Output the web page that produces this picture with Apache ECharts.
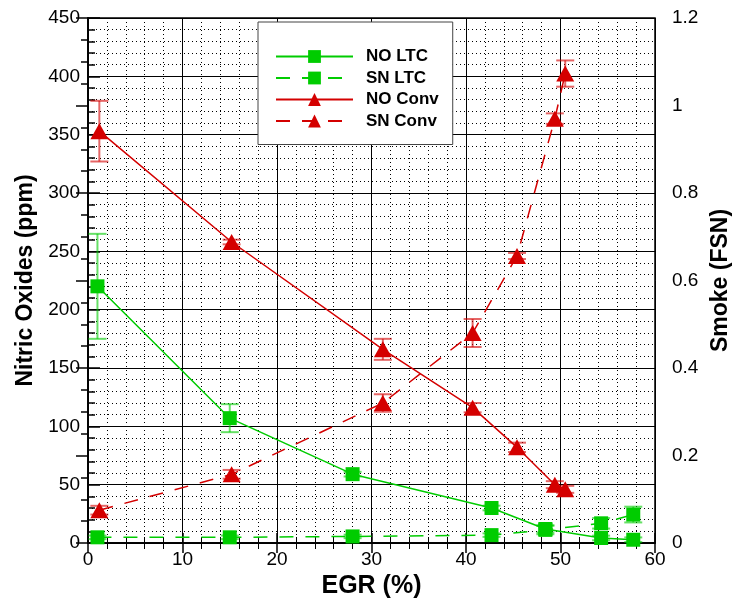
<!DOCTYPE html>
<html>
<head>
<meta charset="utf-8">
<script src="https://cdn.jsdelivr.net/npm/echarts@6/dist/echarts.min.js"></script>
<style>html,body{margin:0;padding:0;background:#fff}#c{width:740px;height:600px}</style>
</head>
<body>
<div id="c"></div>
<script>
// EGR (%) positions
const egrLTC = [1.0, 15.0, 28.0, 42.7, 48.4, 54.3, 57.7];
const egrConv = [1.2, 15.2, 31.2, 40.7, 45.4, 49.4, 50.5];
// Nitric oxides (ppm)
const noLTC = [220, 107, 59, 30, 12, 4.3, 2.8];
const noLTCErr = [45, 12, 2, 2, 3, 2, 2];
const noConv = [353, 258, 166, 116, 82, 50, 46];
const noConvErr = [26, 2, 9, 4, 4, 3, 3];
// Smoke (FSN)
const snLTC = [0.013, 0.013, 0.015, 0.018, 0.03, 0.045, 0.065];
const snLTCErr = [0.004, 0.004, 0.004, 0.004, 0.01, 0.012, 0.018];
const snConv = [0.075, 0.157, 0.32, 0.48, 0.656, 0.97, 1.073];
const snConvErr = [0.01, 0.01, 0.02, 0.032, 0.007, 0.012, 0.03];

const seriesNames = ['NO LTC', 'SN LTC', 'NO Conv', 'SN Conv'];
const GREEN = '#00cc00';
const RED = '#d40000';
const FONT = 'Liberation Sans, Arial, sans-serif';

function pairs(xs, ys) { return xs.map((x, i) => [x, ys[i]]); }
function errData(xs, ys, es) { return xs.map((x, i) => [x, ys[i] - es[i], ys[i] + es[i]]); }

function errSeries(name, xs, ys, es, color, yIdx) {
  return {
    type: 'custom',
    name: name + ' err',
    yAxisIndex: yIdx,
    silent: true,
    z: 3,
    data: errData(xs, ys, es),
    renderItem: function (params, api) {
      const x = api.value(0);
      const lo = api.coord([x, api.value(1)]);
      const hi = api.coord([x, api.value(2)]);
      const w = 9;
      const st = { stroke: color, lineWidth: 2, opacity: 0.6 };
      return {
        type: 'group',
        children: [
          { type: 'line', shape: { x1: lo[0], y1: lo[1], x2: hi[0], y2: hi[1] }, style: st },
          { type: 'line', shape: { x1: lo[0] - w, y1: lo[1], x2: lo[0] + w, y2: lo[1] }, style: st },
          { type: 'line', shape: { x1: hi[0] - w, y1: hi[1], x2: hi[0] + w, y2: hi[1] }, style: st }
        ]
      };
    }
  };
}

const axisLbl = { fontFamily: FONT, fontSize: 19, color: '#000' };
const nameStyleX = { fontFamily: FONT, fontSize: 25, fontWeight: 'bold', color: '#000' };
const nameStyleY = { fontFamily: FONT, fontSize: 23, fontWeight: 'bold', color: '#000' };

const chart = echarts.init(document.getElementById('c'));
chart.setOption({
  animation: false,
  backgroundColor: '#fff',
  grid: { left: 88, right: 85, top: 18, bottom: 57, containLabel: false, outerBoundsMode: 'none',
          show: true, borderColor: '#000', borderWidth: 1.5 },
  legend: {
    data: seriesNames,
    orient: 'vertical',
    left: 258, top: 22,
    backgroundColor: '#fff',
    borderColor: '#444', borderWidth: 1,
    padding: [26, 14, 15, 17],
    itemWidth: 77, itemHeight: 16, itemGap: 4.5,
    textStyle: { fontFamily: FONT, fontSize: 17, fontWeight: 'bold', color: '#000', padding: [0, 0, 0, 8] }
  },
  xAxis: [{
    type: 'value', min: 0, max: 60, interval: 10,
    name: 'EGR (%)', nameLocation: 'middle', nameGap: 31, nameTextStyle: nameStyleX,
    axisLine: { show: true, lineStyle: { color: '#000', width: 1.5 } },
    axisTick: { show: true, inside: true, length: 10, lineStyle: { color: '#000', width: 1.5 } },
    minorTick: { show: true, splitNumber: 5, length: 6, lineStyle: { color: '#000' } },
    axisLabel: Object.assign({ margin: 7 }, axisLbl),
    splitLine: { show: true, lineStyle: { color: '#000', width: 1 } },
    minorSplitLine: { show: true, lineStyle: { color: '#000', type: [1, 3], width: 1 } }
  }, {
    type: 'value', min: 0, max: 60, interval: 10, position: 'top',
    axisLine: { show: true, lineStyle: { color: '#000', width: 1.5 } },
    axisTick: { show: true, inside: true, length: 10, lineStyle: { color: '#000', width: 1.5 } },
    minorTick: { show: true, splitNumber: 5, length: 6, lineStyle: { color: '#000' } },
    axisLabel: { show: false }, splitLine: { show: false }
  }],
  yAxis: [{
    type: 'value', min: 0, max: 450, interval: 50,
    name: 'Nitric Oxides (ppm)', nameLocation: 'middle', nameGap: 49, nameRotate: 90, nameTextStyle: nameStyleY,
    axisLine: { show: true, lineStyle: { color: '#000', width: 1.5 } },
    axisTick: { show: true, inside: true, length: 12, lineStyle: { color: '#000', width: 1.5 } },
    minorTick: { show: true, splitNumber: 5, length: 7, lineStyle: { color: '#000', width: 1.5 } },
    axisLabel: Object.assign({ margin: 8 }, axisLbl),
    splitLine: { show: true, lineStyle: { color: '#000', width: 1 } },
    minorSplitLine: { show: true, lineStyle: { color: '#000', type: [1, 3], width: 1 } }
  }, {
    type: 'value', min: 0, max: 1.2, interval: 0.2, position: 'right',
    name: 'Smoke (FSN)', nameLocation: 'middle', nameGap: 51, nameRotate: 90, nameTextStyle: nameStyleY,
    axisLine: { show: true, lineStyle: { color: '#000', width: 1.5 } },
    axisTick: { show: true, inside: true, length: 12, lineStyle: { color: '#000', width: 1.5 } },
    minorTick: { show: true, splitNumber: 4, length: 7, lineStyle: { color: '#000', width: 1.5 } },
    axisLabel: Object.assign({ margin: 17, formatter: v => String(+v.toFixed(1)) }, axisLbl),
    splitLine: { show: false }
  }],
  series: [
    errSeries('NO LTC', egrLTC, noLTC, noLTCErr, GREEN, 0),
    errSeries('SN LTC', egrLTC, snLTC, snLTCErr, GREEN, 1),
    errSeries('NO Conv', egrConv, noConv, noConvErr, RED, 0),
    errSeries('SN Conv', egrConv, snConv, snConvErr, RED, 1),
    {
      name: 'NO LTC', type: 'line', yAxisIndex: 0, data: pairs(egrLTC, noLTC),
      symbol: 'rect', symbolSize: 14, z: 4,
      itemStyle: { color: GREEN }, lineStyle: { color: GREEN, width: 1.5 }
    },
    {
      name: 'SN LTC', type: 'line', yAxisIndex: 1, data: pairs(egrLTC, snLTC),
      symbol: 'rect', symbolSize: 14, z: 4,
      itemStyle: { color: GREEN }, lineStyle: { color: GREEN, width: 1.5, type: [14, 12] }
    },
    {
      name: 'NO Conv', type: 'line', yAxisIndex: 0, data: pairs(egrConv, noConv),
      symbol: 'triangle', symbolSize: [18, 16], z: 4,
      itemStyle: { color: RED }, lineStyle: { color: RED, width: 1.5 }
    },
    {
      name: 'SN Conv', type: 'line', yAxisIndex: 1, data: pairs(egrConv, snConv),
      symbol: 'triangle', symbolSize: [18, 16], z: 4,
      itemStyle: { color: RED }, lineStyle: { color: RED, width: 1.5, type: [14, 12] }
    }
  ]
});
</script>
</body>
</html>
